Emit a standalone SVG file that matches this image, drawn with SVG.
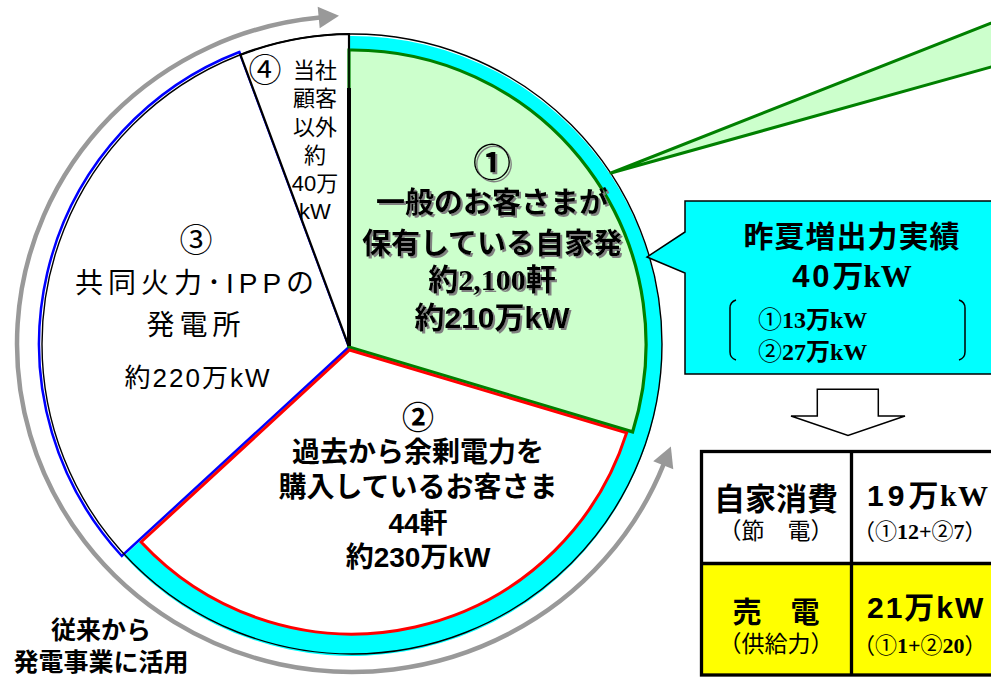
<svg xmlns="http://www.w3.org/2000/svg" width="991" height="677" viewBox="0 0 991 677">
<style>
.jp{font-family:"Liberation Sans","Noto Sans CJK JP",sans-serif;}
.sr{font-family:"Liberation Serif","Noto Sans CJK JP",serif;}
.b{font-weight:bold;}
.m{text-anchor:middle;}
</style>
<defs>
<filter id="sh" x="-10%" y="-20%" width="120%" height="150%">
<feDropShadow dx="2" dy="2" stdDeviation="0.7" flood-color="#808080" flood-opacity="1"/>
</filter>
<marker id="ga" markerUnits="userSpaceOnUse" markerWidth="24" markerHeight="24" refX="1" refY="0" viewBox="0 -10 20 20" orient="auto-start-reverse" overflow="visible">
<path d="M0,-9 L17,0 L0,9 Z" fill="#999999"/>
</marker>
</defs>
<rect width="991" height="677" fill="#ffffff"/>

<g id="pie">
<path id="cyan-ring" d="M349,347 L349,36 A310,310 0 1 1 124,556 Z" fill="#00ffff"/>
<path id="slice3" d="M349,347 L121.8,556 A313,313 0 0 1 239.4,52 Z" fill="#ffffff" stroke="#0000ff" stroke-width="2.5"/>
<path id="slice4" d="M349,347 L240.5,54.8 A310,310 0 0 1 349,34 Z" fill="#ffffff" stroke="#000000" stroke-width="2.2"/>
<circle cx="352" cy="344" r="310" fill="none" stroke="#000000" stroke-width="1.4"/>
<path id="slice1" d="M349,347 L349,50 A294,294 0 0 1 632.6,431.9 Z" fill="#ccffcc" stroke="#008000" stroke-width="3.2"/>
<path id="slice2" d="M349.5,350 L626.6,432.9 A288,288 0 0 1 141.1,542 Z" fill="#ffffff" stroke="#ff0000" stroke-width="3"/>
<line x1="349" y1="88" x2="349" y2="346" stroke="#000000" stroke-width="4"/>
<line x1="349" y1="34" x2="349" y2="90" stroke="#000000" stroke-width="1.5"/>
</g>

<g id="connectors">
<path id="gray-arc" d="M663.7,464.2 A335,328 0 1 1 319.9,17.5" fill="none" stroke="#999999" stroke-width="4.5" marker-start="url(#ga)" marker-end="url(#ga)"/>
<polygon id="green-wedge" points="611,173 1000,19.5 1000,64.5" fill="#ccffcc" stroke="#008000" stroke-width="3" stroke-linejoin="round"/>
</g>

<g id="node1" class="jp b m" filter="url(#sh)">
<text x="492" y="176" font-size="38">①</text>
<text x="492" y="213" font-size="29">一般のお客さまが</text>
<text x="492" y="254" font-size="29">保有している自家発</text>
<text x="492" y="290" font-size="30" class="sr">約2,100軒</text>
<text x="492" y="328" font-size="30">約210万kW</text>
</g>

<g id="node2" class="jp b m">
<text x="418" y="429" font-size="32">②</text>
<text x="418" y="462" font-size="28">過去から余剰電力を</text>
<text x="418" y="497" font-size="28">購入しているお客さま</text>
<text x="418" y="533" font-size="28">44軒</text>
<text x="418" y="567" font-size="28">約230万kW</text>
</g>

<g id="node3" class="jp m">
<text x="196" y="252" font-size="33">③</text>
<text x="197" y="293" font-size="28" letter-spacing="5">共同火力･IPPの</text>
<text x="196" y="335" font-size="28" letter-spacing="5">発電所</text>
<text x="198" y="387" font-size="26" letter-spacing="2">約220万kW</text>
</g>

<g id="node4" class="jp m">
<text x="265" y="82" font-size="33">④</text>
<text x="315" y="78" font-size="22">当社</text>
<text x="315" y="106" font-size="22">顧客</text>
<text x="315" y="135" font-size="22">以外</text>
<text x="315" y="163" font-size="22">約</text>
<text x="315" y="191" font-size="22">40万</text>
<text x="315" y="219" font-size="22">kW</text>
</g>

<g id="label-left" class="jp b m">
<text x="101" y="639" font-size="25">従来から</text>
<text x="101" y="671" font-size="25">発電事業に活用</text>
</g>

<g id="callout">
<path d="M685,201 H1000 V374 H685 V273 L647,257 L685,232 Z" fill="#00ffff" stroke="#000000" stroke-width="1.5" stroke-linejoin="miter"/>
<text x="852" y="247" font-size="30" class="jp b m" letter-spacing="1">昨夏増出力実績</text>
<text x="852" y="287" font-size="31" class="jp b m"><tspan letter-spacing="3">40</tspan><tspan>万</tspan><tspan class="sr">kW</tspan></text>
<path d="M736,300 Q730,302 730,308 V352 Q730,358 736,360" fill="none" stroke="#000000" stroke-width="1.5"/>
<path d="M959,300 Q965,302 965,308 V352 Q965,358 959,360" fill="none" stroke="#000000" stroke-width="1.5"/>
<text x="758" y="328" font-size="24" class="sr b"><tspan font-weight="normal">①</tspan>13<tspan class="jp">万</tspan>kW</text>
<text x="758" y="360" font-size="24" class="sr b"><tspan font-weight="normal">②</tspan>27<tspan class="jp">万</tspan>kW</text>
</g>

<g id="down-arrow">
<polygon points="817.3,389.3 878.3,389.3 878.3,416 905,416 848,435.5 791,416 817.3,416" fill="#ffffff" stroke="#000000" stroke-width="1.5"/>
</g>

<g id="table">
<rect x="701.5" y="563.5" width="300" height="111.5" fill="#ffff00"/>
<rect x="701.5" y="451.5" width="300" height="223.5" fill="none" stroke="#000000" stroke-width="3.3"/>
<line x1="701.5" y1="563.5" x2="1001" y2="563.5" stroke="#000000" stroke-width="3.3"/>
<line x1="851.5" y1="451.5" x2="851.5" y2="675" stroke="#000000" stroke-width="3.3"/>
<text x="776" y="510" font-size="31" class="jp b m">自家消費</text>
<text x="776" y="539" font-size="23" class="jp m">（節　電）</text>
<text x="776" y="623" font-size="29" class="jp b m">売　電</text>
<text x="776" y="652" font-size="23" class="jp m">（供給力）</text>
<text x="867" y="506" font-size="30" class="jp b" letter-spacing="1.5"><tspan letter-spacing="4">19</tspan><tspan>万</tspan><tspan class="sr">kW</tspan></text>
<text x="853" y="539" font-size="22" class="sr b"><tspan class="jp" font-weight="normal">（①</tspan>12+<tspan class="jp" font-weight="normal">②</tspan>7<tspan class="jp" font-weight="normal">）</tspan></text>
<text x="867" y="618" font-size="30" class="jp b" letter-spacing="2">21万kW</text>
<text x="853" y="653" font-size="22" class="sr b"><tspan class="jp" font-weight="normal">（①</tspan>1+<tspan class="jp" font-weight="normal">②</tspan>20<tspan class="jp" font-weight="normal">）</tspan></text>
</g>
</svg>
